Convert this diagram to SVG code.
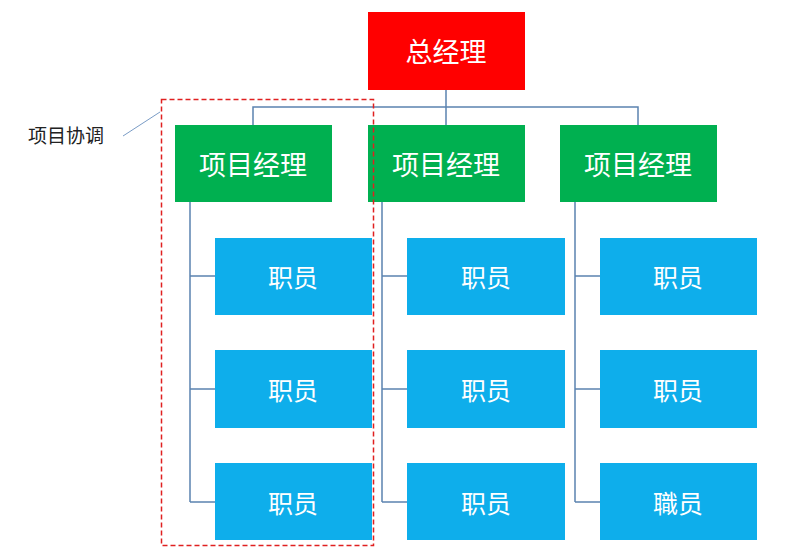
<svg xmlns="http://www.w3.org/2000/svg" width="800" height="549" viewBox="0 0 800 549">
<style>
text{font-family:"Noto Sans CJK SC","Noto Sans",sans-serif;fill:#fff;text-anchor:middle;dominant-baseline:central}
.m text{font-size:27px}
.e text{font-size:25px}
.m rect{fill:#00b050}
.e rect{fill:#0eaeeb}
.c{fill:none;stroke:#5b83b0;stroke-width:1.5}
</style>
<rect width="800" height="549" fill="#fff"/>
<g id="connectors" class="c">
<path d="M446 90V107M253 125V107H638V125M446 107V125"/>
<path d="M190 202V502M190 276H215M190 389H215M190 502H215"/>
<path d="M382 202V502M382 276H407M382 389H407M382 502H407"/>
<path d="M575 202V502M575 276H600M575 389H600M575 502H600"/>
</g>
<g id="gm"><rect x="368" y="12" width="157" height="78" fill="#ff0000"/><text x="446" y="50" font-size="27">总经理</text></g>
<g id="pm1" class="m"><rect x="175" y="125" width="157" height="77"/><text x="253" y="163">项目经理</text></g>
<g id="pm2" class="m"><rect x="368" y="125" width="157" height="77"/><text x="446" y="163">项目经理</text></g>
<g id="pm3" class="m"><rect x="560" y="125" width="157" height="77"/><text x="638" y="163">项目经理</text></g>
<g id="e11" class="e"><rect x="215" y="238" width="157" height="77"/><text x="293" y="276">职员</text></g>
<g id="e12" class="e"><rect x="215" y="350" width="157" height="78"/><text x="293" y="389">职员</text></g>
<g id="e13" class="e"><rect x="215" y="463" width="157" height="77"/><text x="293" y="502">职员</text></g>
<g id="e21" class="e"><rect x="407" y="238" width="158" height="77"/><text x="486" y="276">职员</text></g>
<g id="e22" class="e"><rect x="407" y="350" width="158" height="78"/><text x="486" y="389">职员</text></g>
<g id="e23" class="e"><rect x="407" y="463" width="158" height="77"/><text x="486" y="502">职员</text></g>
<g id="e31" class="e"><rect x="600" y="238" width="157" height="77"/><text x="678" y="276">职员</text></g>
<g id="e32" class="e"><rect x="600" y="350" width="157" height="78"/><text x="678" y="389">职员</text></g>
<g id="e33" class="e"><rect x="600" y="463" width="157" height="77"/><text x="678" y="502">職员</text></g>
<g id="coord">
<rect x="161.5" y="99.5" width="212" height="446" fill="none" stroke="#e02020" stroke-width="1.5" stroke-dasharray="5,3"/>
<line x1="123" y1="136" x2="160" y2="112" stroke="#7a9cc6" stroke-width="1"/>
<text x="66" y="134" font-size="19" style="fill:#222">项目协调</text>
</g>
</svg>
